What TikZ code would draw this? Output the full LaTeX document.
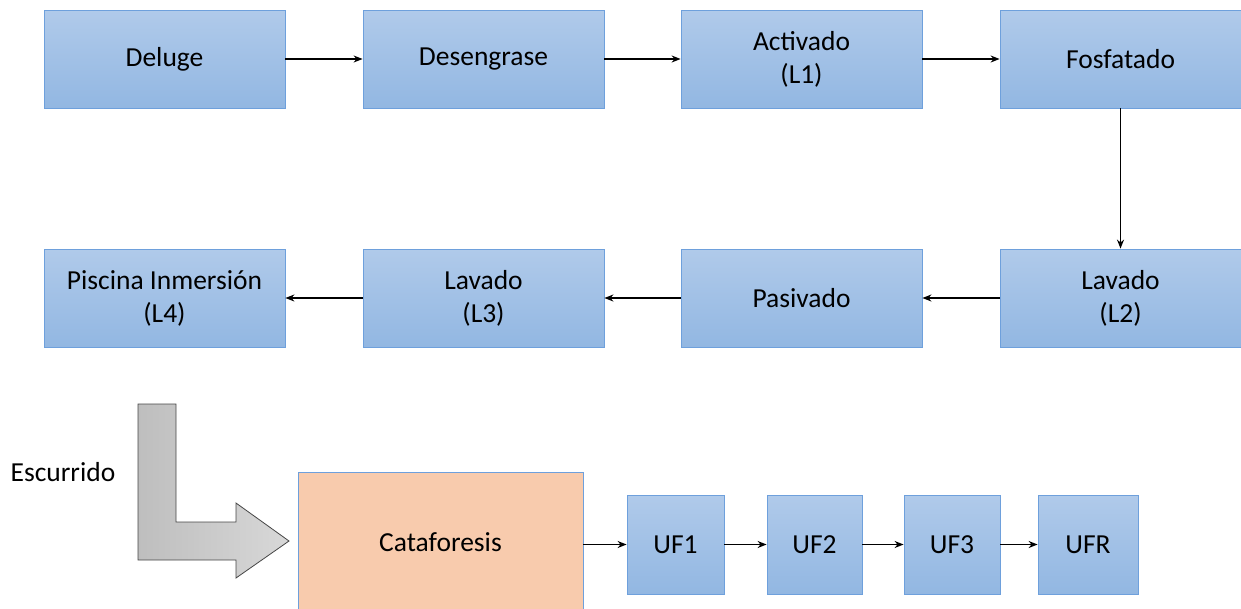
\documentclass[tikz,border=0pt]{standalone}
\usepackage{fontspec}
\setmainfont{Carlito}
\usetikzlibrary{arrows.meta}
\definecolor{boxtop}{RGB}{176,202,234}
\definecolor{boxbot}{RGB}{146,183,226}
\definecolor{boxline}{RGB}{110,160,220}
\definecolor{peach}{RGB}{248,203,173}
\definecolor{arrline}{RGB}{70,70,70}
\definecolor{greyL}{RGB}{190,190,190}
\definecolor{greyR}{RGB}{216,216,216}
\tikzset{
  stepbox/.style={rectangle, draw=boxline, line width=0.8pt, top color=boxtop, bottom color=boxbot,
    minimum width=241pt, minimum height=98pt, align=center, inner sep=0pt,
    font=\fontsize{27.5}{33}\selectfont},
  ufbox/.style={stepbox, minimum width=97pt, minimum height=99pt},
  catbox/.style={rectangle, draw=boxline, line width=0.6pt, fill=peach,
    minimum width=285pt, minimum height=140pt, align=center, inner sep=0pt,
    font=\fontsize{27.5}{33}\selectfont},
  flow/.style={draw=black, line width=1.4pt, -{Stealth[length=9pt,width=7pt]}},
  lbl/.style={font=\fontsize{27.5}{33}\selectfont, inner sep=0pt}
}
\begin{document}
\begin{tikzpicture}[x=1pt,y=-1pt]
\useasboundingbox (0,0) rectangle (1241,608);
\clip (0,0) rectangle (1241,608);
\node[stepbox] (del) at (164.5,59) {Deluge};
\node[stepbox] (des) at (483.5,59) {Desengrase};
\node[stepbox] (act) at (801.5,59) {Activado\\(L1)};
\node[stepbox] (fos) at (1120.5,59) {Fosfatado};
\node[stepbox] (pis) at (164.5,298) {Piscina Inmersión\\(L4)};
\node[stepbox] (lv3) at (483.5,298) {Lavado\\(L3)};
\node[stepbox] (pas) at (801.5,298) {Pasivado};
\node[stepbox] (lv2) at (1120.5,298) {Lavado\\(L2)};
\node[catbox] (cat) at (440.5,542) {Cataforesis};
\node[ufbox] (uf1) at (675.5,544.5) {UF1};
\node[ufbox, minimum width=95pt] (uf2) at (814.5,544.5) {UF2};
\node[ufbox, minimum width=96pt] (uf3) at (952,544.5) {UF3};
\node[ufbox, minimum width=100pt] (ufr) at (1088,544.5) {UFR};
\node[lbl] (esc) at (63,472) {Escurrido};
\draw[left color=greyL, right color=greyR, draw=arrline, line width=0.8pt]
  (138,404) -- (176,404) -- (176,522) -- (236,522) -- (236,503) -- (289,541)
  -- (236,578) -- (236,560) -- (138,560) -- cycle;
\draw[flow] (del) -- (des);
\draw[flow] (des) -- (act);
\draw[flow] (act) -- (fos);
\draw[flow] (fos) -- (lv2);
\draw[flow] (lv2) -- (pas);
\draw[flow] (pas) -- (lv3);
\draw[flow] (lv3) -- (pis);
\draw[flow] (cat.east |- uf1) -- (uf1);
\draw[flow] (uf1) -- (uf2);
\draw[flow] (uf2) -- (uf3);
\draw[flow] (uf3) -- (ufr);
\end{tikzpicture}
\end{document}
